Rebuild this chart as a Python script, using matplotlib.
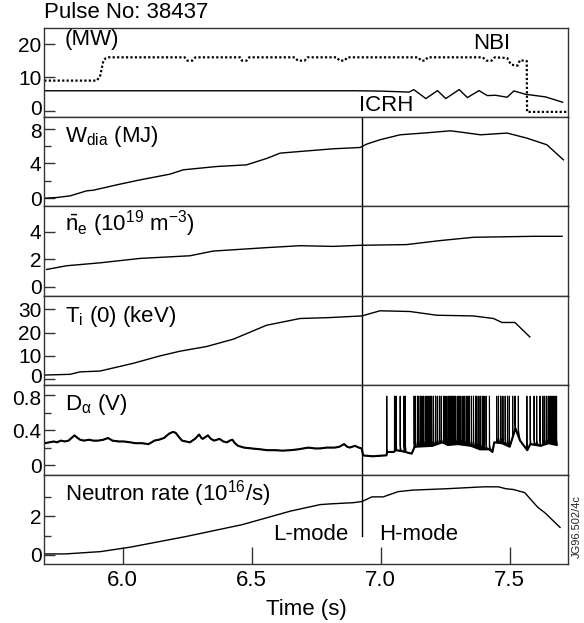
import numpy as np
import matplotlib
matplotlib.use("Agg")
import matplotlib.pyplot as plt
from matplotlib.transforms import ScaledTranslation

plt.rcParams['font.family'] = ['Liberation Sans', 'DejaVu Sans']
plt.rcParams['mathtext.fontset'] = 'custom'
plt.rcParams['mathtext.rm'] = 'Liberation Sans'
plt.rcParams['mathtext.it'] = 'Liberation Sans'
plt.rcParams['mathtext.bf'] = 'Liberation Sans'

# ---------------- data ----------------
title = "Pulse No: 38437"
x_ticks = [6.0, 6.5, 7.0, 7.5]
x_tick_labels = ["6.0", "6.5", "7.0", "7.5"]
t_lh = 6.927  # L-H transition

nbi_t = [5.696, 5.900, 5.905, 5.912, 5.925, 5.935, 5.945, 6.240, 6.250, 6.270, 6.282,
         6.455, 6.462, 6.480, 6.490, 6.668, 6.678, 6.705, 6.716, 6.830, 6.840, 6.860, 6.870,
         7.146, 7.156, 7.172, 7.182, 7.395, 7.410, 7.430, 7.442, 7.490, 7.505, 7.530, 7.540,
         7.558, 7.566, 7.567, 7.727]
nbi_v = [9.0, 9.0, 9.6, 10.2, 15.0, 15.8, 16.0, 16.0, 15.0, 15.0, 16.0,
         16.0, 15.0, 15.0, 16.0, 16.0, 15.0, 15.0, 16.0, 16.0, 15.0, 15.0, 16.0,
         16.0, 15.0, 15.0, 16.0, 16.0, 15.0, 15.0, 16.0, 15.8, 13.8, 13.5, 15.2,
         14.9, 14.9, -0.4, -0.4]

icrh_t = [5.696, 6.900, 7.000, 7.110, 7.128, 7.175, 7.220, 7.252, 7.304, 7.336, 7.381,
          7.413, 7.445, 7.490, 7.516, 7.561, 7.639, 7.705]
icrh_v = [5.95, 5.95, 5.85, 5.55, 6.3, 3.6, 6.0, 3.6, 6.3, 3.9, 6.0,
          4.5, 4.6, 4.0, 5.9, 4.9, 4.1, 2.5]

wdia_t = [5.699, 5.744, 5.796, 5.860, 5.886, 5.977, 6.067, 6.183, 6.235, 6.364, 6.480,
          6.560, 6.610, 6.687, 6.816, 6.920, 6.946, 6.997, 7.075, 7.178, 7.270, 7.310,
          7.387, 7.490, 7.566, 7.644, 7.708]
wdia_v = [0.0, 0.08, 0.27, 0.85, 0.92, 1.54, 2.11, 2.77, 3.27, 3.65, 3.84,
          4.6, 5.19, 5.38, 5.69, 5.84, 6.23, 6.73, 7.30, 7.53, 7.76, 7.61,
          7.30, 7.50, 6.92, 6.15, 4.42]

ne_t = [5.705, 5.783, 5.912, 6.067, 6.260, 6.350, 6.557, 6.687, 6.816, 6.920, 7.100,
        7.230, 7.360, 7.594, 7.703]
ne_v = [1.26, 1.53, 1.74, 2.06, 2.25, 2.59, 2.84, 2.98, 2.93, 3.01, 3.06,
        3.35, 3.59, 3.66, 3.66]

ti_t = [5.699, 5.796, 5.834, 5.912, 6.040, 6.145, 6.222, 6.325, 6.430, 6.557, 6.687,
        6.803, 6.927, 6.997, 7.113, 7.217, 7.359, 7.437, 7.470, 7.520, 7.578]
ti_v = [1.8, 2.1, 3.15, 3.5, 6.8, 10.0, 12.0, 14.0, 17.2, 23.1, 26.0,
        26.4, 27.1, 29.3, 29.0, 27.4, 27.1, 26.0, 24.3, 24.3, 18.1]

# D-alpha baseline (with visible wiggles) and ELM spike times
da_t = [5.697, 5.715, 5.733, 5.745, 5.760, 5.775, 5.790, 5.813, 5.825, 5.835, 5.850,
        5.870, 5.885, 5.905, 5.925, 5.943, 5.960, 5.985, 6.005, 6.030, 6.050, 6.075,
        6.100, 6.112, 6.123, 6.140, 6.160, 6.180, 6.195, 6.205, 6.218, 6.230, 6.245,
        6.260, 6.270, 6.280, 6.296, 6.305, 6.310, 6.320, 6.330, 6.342, 6.354, 6.365,
        6.375, 6.390, 6.404, 6.415, 6.425, 6.435, 6.447, 6.470, 6.500, 6.534, 6.560,
        6.590, 6.620, 6.650, 6.680, 6.700, 6.720, 6.745, 6.765, 6.790, 6.822, 6.840,
        6.858, 6.870, 6.880, 6.900, 6.915, 6.926,
        6.932, 6.970, 7.015, 7.022, 7.025, 7.050, 7.060, 7.080, 7.095, 7.120, 7.130,
        7.135, 7.200, 7.239, 7.260, 7.300, 7.350, 7.385, 7.420, 7.433, 7.440, 7.470,
        7.500, 7.522, 7.540, 7.568, 7.580, 7.620, 7.650, 7.682]
da_v = [0.25, 0.26, 0.27, 0.26, 0.28, 0.27, 0.28, 0.34, 0.31, 0.29, 0.28,
        0.29, 0.28, 0.28, 0.29, 0.31, 0.28, 0.27, 0.27, 0.26, 0.25, 0.25,
        0.24, 0.26, 0.28, 0.29, 0.31, 0.36, 0.38, 0.37, 0.32, 0.28, 0.27,
        0.26, 0.28, 0.30, 0.35, 0.31, 0.30, 0.32, 0.34, 0.30, 0.28, 0.29,
        0.30, 0.27, 0.26, 0.28, 0.29, 0.25, 0.22, 0.20, 0.19, 0.18, 0.17,
        0.17, 0.165, 0.17, 0.18, 0.19, 0.20, 0.19, 0.19, 0.20, 0.20, 0.21,
        0.24, 0.21, 0.20, 0.22, 0.20, 0.19,
        0.11, 0.10, 0.11, 0.11, 0.15, 0.15, 0.17, 0.16, 0.15, 0.13, 0.20,
        0.21, 0.22, 0.26, 0.23, 0.24, 0.22, 0.18, 0.18, 0.15, 0.26, 0.25,
        0.21, 0.42, 0.28, 0.17, 0.24, 0.22, 0.25, 0.23]
elm_t = [7.023, 7.053, 7.059, 7.075, 7.090, 7.095, 7.129, 7.134, 7.142, 7.147, 7.154,
         7.160, 7.166, 7.173, 7.179, 7.186, 7.191, 7.197, 7.204, 7.212, 7.219, 7.227,
         7.234, 7.243, 7.249, 7.256, 7.263, 7.269, 7.274, 7.279, 7.284, 7.290, 7.297,
         7.303, 7.310, 7.318, 7.324, 7.331, 7.337, 7.343, 7.351, 7.359, 7.367, 7.372,
         7.380, 7.387, 7.395, 7.400, 7.408, 7.421, 7.449, 7.456, 7.465, 7.473, 7.482,
         7.491, 7.498, 7.511, 7.520, 7.533, 7.566, 7.579, 7.594, 7.604, 7.617, 7.628,
         7.635, 7.643, 7.650, 7.656, 7.663, 7.669, 7.675, 7.681]
elm_peak = 0.79

neut_t = [5.696, 5.777, 5.914, 6.029, 6.245, 6.462, 6.649, 6.765, 6.808, 6.894, 6.927,
          6.966, 7.010, 7.067, 7.125, 7.255, 7.400, 7.456, 7.485, 7.514, 7.558, 7.608,
          7.637, 7.695]
neut_v = [0.05, 0.05, 0.17, 0.40, 0.95, 1.56, 2.26, 2.60, 2.64, 2.70, 2.76,
          3.00, 3.00, 3.27, 3.35, 3.42, 3.52, 3.52, 3.42, 3.38, 3.22, 2.47,
          2.17, 1.42]

# ---------------- layout ----------------
W, H = 584, 623
fig = plt.figure(figsize=(W / 100, H / 100), dpi=100)
left, right = 44.3 / W, 568.3 / W
top_px, bot_px = 27.7, 564.0
n = 6
ph = (bot_px - top_px) / n
axes = []
for i in range(n):
    y0 = 1 - (top_px + (i + 1) * ph) / H
    ax = fig.add_axes([left, y0, right - left, ph / H])
    axes.append(ax)

FS = 16
YFS = 15
spine_c = '#333333'
xlim = (5.696, 7.727)
for ax in axes:
    ax.set_xlim(*xlim)
    for s in ax.spines.values():
        s.set_color(spine_c)
        s.set_linewidth(1.0)
    ax.tick_params(axis='y', direction='in', length=8, width=1, color=spine_c,
                   labelsize=YFS, pad=2)
    ax.tick_params(axis='y', which='minor', direction='in', length=5, width=1, color=spine_c)
    ax.set_xticks(x_ticks)
    ax.tick_params(axis='x', direction='in', length=12, width=1, color=spine_c,
                   labelsize=FS, pad=4)
    if ax is not axes[-1]:
        ax.tick_params(axis='x', length=0, labelbottom=False)


def shift_label(ax, idx, dy_pt):
    tick = ax.yaxis.get_major_ticks()[idx]
    tick.label1.set_transform(tick.label1.get_transform() +
                              ScaledTranslation(0, dy_pt / 72, fig.dpi_scale_trans))


# Panel 1: power
a = axes[0]
a.plot(nbi_t, nbi_v, color='black', lw=1.6, linestyle=(0, (1, 1)))
a.plot(icrh_t, icrh_v, color='black', lw=1.0)
a.set_ylim(-1.96, 24.9)
a.set_yticks([0, 10, 20])
a.set_yticklabels(["0", "10", "20"])
a.text(5.776, 21.3, "(MW)", fontsize=FS, va='center', ha='left')
a.text(7.43, 20.3, "NBI", fontsize=FS, va='center', ha='center')
a.text(7.023, 1.4, "ICRH", fontsize=FS, va='center', ha='center')
a.text(5.696, 1.055, title, transform=a.get_xaxis_transform(), fontsize=FS,
       va='bottom', ha='left')

# Panel 2: W_dia
a = axes[1]
a.plot(wdia_t, wdia_v, color='black', lw=1.0)
a.set_ylim(-0.95, 9.34)
a.set_yticks([0, 4, 8])
a.set_yticklabels(["0", "4", "8"])
a.set_yticks([2, 6], minor=True)
a.text(5.776, 7.05, r"W$_{\rm dia}$ (MJ)", fontsize=FS, va='center', ha='left')

# Panel 3: n_e
a = axes[2]
a.plot(ne_t, ne_v, color='black', lw=1.0)
a.set_ylim(-0.65, 5.82)
a.set_yticks([0, 2, 4])
a.set_yticklabels(["0", "2", "4"])
a.text(5.776, 4.6, r"$\bar{\rm n}_{\rm e}$ (10$^{19}$ m$^{-3}$)", fontsize=FS,
       va='center', ha='left')

# Panel 4: T_i
a = axes[3]
a.plot(ti_t, ti_v, color='black', lw=1.0)
a.set_ylim(-2.57, 35.7)
a.set_yticks([0, 10, 20, 30])
a.set_yticklabels(["0", "10", "20", "30"])
a.text(5.776, 27.0, r"T$_{\rm i}$ (0) (keV)", fontsize=FS, va='center', ha='left')

# Panel 5: D-alpha
a = axes[4]
bt = np.array(da_t)
bv = np.array(da_v)
pts_t, pts_v = [], []
spikes = sorted(elm_t)
j = 0
for k in range(len(bt)):
    while j < len(spikes) and spikes[j] <= bt[k]:
        ts = spikes[j]
        b = float(np.interp(ts, bt, bv))
        pts_t += [ts, ts + 0.0004, ts + 0.0010, ts + 0.003]
        pts_v += [b, elm_peak, b + 0.06, b + 0.02]
        j += 1
    pts_t.append(bt[k])
    pts_v.append(bv[k])
a.plot(pts_t, pts_v, color='black', lw=0.8)
# thicker overlay to mimic the noisy band of the signal
a.plot(da_t, da_v, color='black', lw=1.5)
a.set_ylim(-0.11, 0.915)
a.set_yticks([0, 0.4, 0.8])
a.set_yticklabels(["0", "0.4", "0.8"])
a.set_yticks([0.2, 0.6], minor=True)
a.text(5.776, 0.69, r"D$_{\alpha}$ (V)", fontsize=FS, va='center', ha='left')

# Panel 6: neutron rate
a = axes[5]
a.plot(neut_t, neut_v, color='black', lw=1.0)
a.set_ylim(-0.47, 4.15)
a.set_yticks([0, 2])
a.set_yticklabels(["0", "2"])
a.set_yticks([1, 3], minor=True)
a.set_xticklabels(x_tick_labels)
a.set_xlabel("Time (s)", fontsize=FS, labelpad=6)
a.text(5.776, 3.19, r"Neutron rate (10$^{16}$/s)", fontsize=FS, va='center', ha='left')
a.text(6.873, 1.04, "L-mode", fontsize=FS, va='center', ha='right')
a.text(6.995, 1.04, "H-mode", fontsize=FS, va='center', ha='left')

# nudge crowded tick labels at the panel joins
shift_label(axes[0], 0, 2.5)    # "0" of power panel up
shift_label(axes[1], 2, -1.5)   # "8" of W_dia down
shift_label(axes[3], 0, 2.5)    # "0" of T_i up
shift_label(axes[4], 2, -1.5)   # "0.8" of D-alpha down

# L-H transition line
for ax in axes[1:5]:
    ax.axvline(t_lh, color='black', lw=1.0)
axes[5].plot([t_lh, t_lh], [1.0, 4.15], color='black', lw=1.0)

fig.text(577 / W, 1 - 527 / H, "JG96.502/4c", rotation=90, fontsize=8,
         va='center', ha='center', color='#222222')

fig.savefig("out.png", dpi=100)
